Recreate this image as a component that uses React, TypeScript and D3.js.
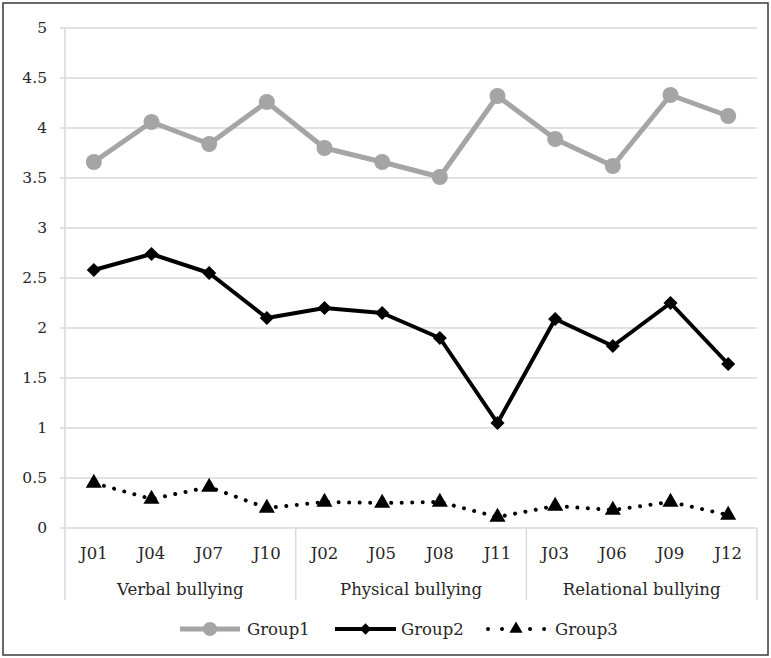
import React from "react";
import * as d3 from "d3";

const categories = ["J01", "J04", "J07", "J10", "J02", "J05", "J08", "J11", "J03", "J06", "J09", "J12"];
const groupNames = ["Verbal bullying", "Physical bullying", "Relational bullying"];
const group1 = [3.66, 4.06, 3.84, 4.26, 3.80, 3.66, 3.51, 4.32, 3.89, 3.62, 4.33, 4.12];
const group2 = [2.58, 2.74, 2.55, 2.10, 2.20, 2.15, 1.90, 1.05, 2.09, 1.82, 2.25, 1.64];
const group3 = [0.45, 0.29, 0.41, 0.20, 0.26, 0.25, 0.26, 0.11, 0.22, 0.18, 0.26, 0.13];
const yTicks = [0, 0.5, 1, 1.5, 2, 2.5, 3, 3.5, 4, 4.5, 5];
const seriesNames = ["Group1", "Group2", "Group3"];

const W = 771;
const H = 658;
const left = 65;
const right = 757;
const top = 28;
const bottom = 528;
const font = "'DejaVu Serif', serif";

export default function App() {
  const x = d3.scaleBand<string>().domain(categories).range([left, right]);
  const y = d3.scaleLinear().domain([0, 5]).range([bottom, top]);
  const cx = (c: string) => (x(c) as number) + x.bandwidth() / 2;
  const line = d3
    .line<number>()
    .x((_, i) => cx(categories[i]))
    .y((d) => y(d));

  const diamond = d3.symbol().type(d3.symbolSquare).size(100)() as string;
  const triangle = d3.symbol().type(d3.symbolTriangle).size(112)() as string;
  const triangleSmall = d3.symbol().type(d3.symbolTriangle).size(75)() as string;

  const groupBounds = [0, 4, 8, 12].map((i) =>
    i < 12 ? (x(categories[i]) as number) : right
  );

  const legendY = 629;
  const legend = [
    { x0: 180, x1: 240, tx: 247 },
    { x0: 335, x1: 396, tx: 401 },
    { x0: 488, x1: 544, tx: 555 },
  ];
  const txt = { fontFamily: font, fill: "#262626" } as React.CSSProperties;

  return (
    <svg
      width={W}
      height={H}
      style={{ position: "absolute", left: 0, top: 0, background: "#fff" }}
    >
      <rect x={0} y={0} width={W} height={H} fill="#fff" />
      <rect x={3} y={3} width={765} height={652} fill="none" stroke="#3a3a3a" strokeWidth={1.5} />

      {yTicks.map((t) => (
        <line key={t} x1={60} x2={right} y1={y(t)} y2={y(t)} stroke="#d9d9d9" strokeWidth={1.5} />
      ))}
      <line x1={left} x2={left} y1={top} y2={600} stroke="#d9d9d9" strokeWidth={1.5} />
      {groupBounds.slice(1).map((gx, i) => (
        <line key={i} x1={gx} x2={gx} y1={bottom} y2={600} stroke="#d9d9d9" strokeWidth={1.5} />
      ))}

      {yTicks.map((t) => (
        <text key={t} x={47} y={y(t)} dy="0.35em" textAnchor="end" fontSize={15.5} style={txt}>
          {String(t)}
        </text>
      ))}

      {categories.map((c) => (
        <text key={c} x={cx(c)} y={559} textAnchor="middle" fontSize={16.5} style={txt}>
          {c}
        </text>
      ))}
      {groupNames.map((g, i) => (
        <text
          key={g}
          x={(groupBounds[i] + groupBounds[i + 1]) / 2}
          y={595}
          textAnchor="middle"
          fontSize={16.5}
          style={txt}
        >
          {g}
        </text>
      ))}

      <path d={line(group1) as string} fill="none" stroke="#a5a5a5" strokeWidth={5} strokeLinejoin="round" />
      {group1.map((v, i) => (
        <circle key={i} cx={cx(categories[i])} cy={y(v)} r={8} fill="#a5a5a5" />
      ))}

      <path d={line(group2) as string} fill="none" stroke="#000" strokeWidth={4} strokeLinejoin="round" />
      {group2.map((v, i) => (
        <path key={i} d={diamond} transform={`translate(${cx(categories[i])},${y(v)}) rotate(45)`} fill="#000" />
      ))}

      <path
        d={line(group3) as string}
        fill="none"
        stroke="#000"
        strokeWidth={4}
        strokeLinecap="round"
        strokeDasharray="0.01 10.5"
      />
      {group3.map((v, i) => (
        <path key={i} d={triangle} transform={`translate(${cx(categories[i])},${y(v)})`} fill="#000" />
      ))}

      <line x1={legend[0].x0} x2={legend[0].x1} y1={legendY} y2={legendY} stroke="#a5a5a5" strokeWidth={5} />
      <circle cx={(legend[0].x0 + legend[0].x1) / 2} cy={legendY} r={7} fill="#a5a5a5" />
      <line x1={legend[1].x0} x2={legend[1].x1} y1={legendY} y2={legendY} stroke="#000" strokeWidth={4} />
      <path d={diamond} transform={`translate(${(legend[1].x0 + legend[1].x1) / 2},${legendY}) rotate(45) scale(0.8)`} fill="#000" />
      <line
        x1={legend[2].x0}
        x2={legend[2].x1 + 1}
        y1={legendY}
        y2={legendY}
        stroke="#000"
        strokeWidth={4}
        strokeLinecap="round"
        strokeDasharray="0.01 14"
      />
      <path d={triangleSmall} transform={`translate(${(legend[2].x0 + legend[2].x1) / 2},${legendY})`} fill="#000" />
      {seriesNames.map((s, i) => (
        <text key={s} x={legend[i].tx} y={legendY} dy="0.35em" fontSize={16.5} style={txt}>
          {s}
        </text>
      ))}
    </svg>
  );
}
